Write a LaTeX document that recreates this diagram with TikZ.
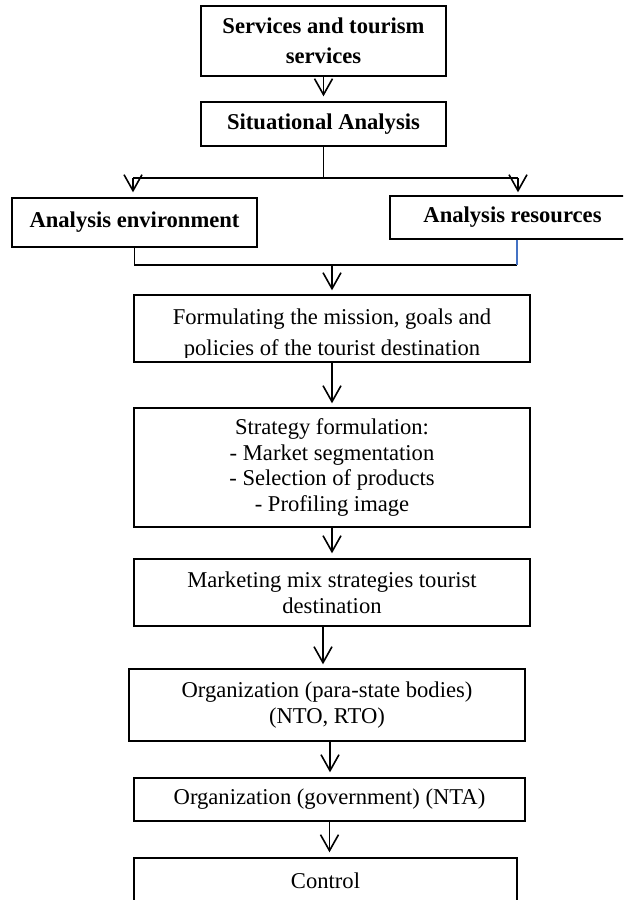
\documentclass[tikz,border=0pt]{standalone}
\usepackage{fontspec}
\setmainfont{Liberation Serif}
\usetikzlibrary{arrows.meta}
\definecolor{lnblue}{RGB}{68,114,196}
\begin{document}
\begin{tikzpicture}[x=0.5pt,y=-0.5pt,
  box/.style={draw, line width=0.7pt, inner sep=0pt, align=center,
    font=\fontsize{11.3pt}{12.9pt}\selectfont},
  bbox/.style={box, font=\fontsize{11.3pt}{15pt}\selectfont\bfseries},
  txt/.style={inner sep=0pt, align=center, font=\fontsize{11.3pt}{15.5pt}\selectfont},
  conn/.style={line width=0.8pt},
  arr/.style={conn, -{Straight Barb[length=8pt,width=9pt]}}]
\useasboundingbox (0,0) rectangle (623,900);
\clip (0,0) rectangle (623,900);
% boxes
\node[bbox, minimum width=122.5pt, minimum height=35pt] (b1) at (323.5,41) {Services and tourism\\services};
\node[bbox, minimum width=122.5pt, minimum height=22pt] (b2) at (323.5,124) {Situational Analysis};
\node[bbox, minimum width=122.5pt, minimum height=24.5pt] (b3) at (134.5,222.5) {Analysis environment};
\node[bbox, minimum width=122.5pt, minimum height=21.5pt] (b4) at (512.5,217.5) {Analysis resources};
\node[box, minimum width=198pt, minimum height=33.5pt] (b5) at (332,328.5) {};
\begin{scope}
  \clip (134,296) rectangle (530,357);
  \node[txt] (t5) at (332,335) {Formulating the mission, goals and\\policies of the tourist destination};
\end{scope}
\node[box, minimum width=198pt, minimum height=59.5pt] (b6) at (332,467.5) {Strategy formulation:\\- Market segmentation\\- Selection of products\\- Profiling image};
\node[box, minimum width=198pt, minimum height=33.5pt] (b7) at (332,592.5) {Marketing mix strategies tourist\\destination};
\node[box, minimum width=198pt, minimum height=36pt] (b8) at (327,705) {Organization (para-state bodies)\\(NTO, RTO)};
\node[box, minimum width=195.5pt, minimum height=21.5pt] (b9) at (329.5,799.5) {Organization (government) (NTA)};
\node[box, minimum width=191.5pt, minimum height=23pt] (b10) at (325.5,881) {Control};
% connectors
\draw[arr, shorten >=2.5pt] (b1.south) -- (b2.north);
\coordinate (sl) at (133,178);
\coordinate (sr) at (518,178);
\draw[conn] (b2.south) -- (b2.south |- sl);
\draw[conn] (sl) -- (sr);
\draw[arr, shorten >=2.5pt] (sl) -- (sl |- b3.north);
\draw[arr, shorten >=1.5pt] (sr) -- (sr |- b4.north);
\coordinate (jl) at (134,265);
\coordinate (jr) at (517,265);
\coordinate (b4s) at ([xshift=2.25pt]b4.south);
\draw[conn] (b3.south) -- (b3.south |- jl) -- (jr);
\draw[conn, lnblue] (b4s) -- (jr);
\draw[arr, shorten >=2pt] (b5.north |- jl) -- (b5.north);
\draw[arr, shorten >=2pt] (b5.south) -- (b6.north);
\draw[arr, shorten >=2.5pt] (b6.south) -- (b7.north);
\coordinate (a7) at ([xshift=-4.5pt]b7.south);
\draw[arr, shorten >=2pt] (a7) -- (a7 |- b8.north);
\coordinate (a8) at ([xshift=1.5pt]b8.south);
\draw[arr, shorten >=2.5pt] (a8) -- (a8 |- b9.north);
\draw[arr, shorten >=2.5pt] (b9.south) -- (b9.south |- b10.north);
\end{tikzpicture}
\end{document}
